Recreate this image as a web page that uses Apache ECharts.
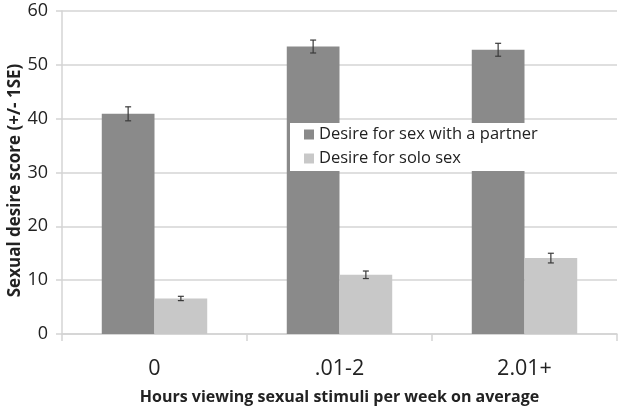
<!DOCTYPE html>
<html>
<head>
<meta charset="utf-8">
<script src="https://cdn.jsdelivr.net/npm/echarts@6/dist/echarts.min.js"></script>
<style>html,body{margin:0;padding:0;background:#fff;}#c{width:618px;height:410px;}</style>
</head>
<body>
<div id="c"></div>
<script>
var categories = ['0', '.01-2', '2.01+'];
var seriesNames = ['Desire for sex with a partner', 'Desire for solo sex'];
var partnerValues = [40.9, 53.4, 52.8];
var partnerSE = [1.3, 1.2, 1.2];
var soloValues = [6.6, 11.0, 14.1];
var soloSE = [0.4, 0.7, 0.9];
var yTicks = [0, 10, 20, 30, 40, 50, 60];

var FONT = 'Open Sans';
var CAT_GAP = 0.43;

function errorSeries(values, se, sideSign, name) {
  var data = values.map(function (v, i) { return [i, v - se[i], v + se[i]]; });
  return {
    type: 'custom',
    name: name + ' SE',
    z: 3,
    silent: true,
    tooltip: { show: false },
    data: data,
    encode: { x: 0, y: [1, 2] },
    renderItem: function (params, api) {
      var idx = api.value(0);
      var lo = api.coord([idx, api.value(1)]);
      var hi = api.coord([idx, api.value(2)]);
      var band = api.size([1, 0])[0];
      var bw = band * (1 - CAT_GAP) / 2;
      var x = lo[0] + sideSign * bw / 2;
      var cap = 3;
      var st = { stroke: '#3a3a3a', lineWidth: 1.2 };
      return {
        type: 'group',
        children: [
          { type: 'line', shape: { x1: x, y1: lo[1], x2: x, y2: hi[1] }, style: st },
          { type: 'line', shape: { x1: x - cap, y1: lo[1], x2: x + cap, y2: lo[1] }, style: st },
          { type: 'line', shape: { x1: x - cap, y1: hi[1], x2: x + cap, y2: hi[1] }, style: st }
        ]
      };
    }
  };
}

var chart = echarts.init(document.getElementById('c'), null, { renderer: 'canvas' });
chart.setOption({
  animation: false,
  backgroundColor: '#fff',
  grid: { left: 62, right: 1, top: 11, bottom: 76, containLabel: false, outerBoundsMode: 'none' },
  legend: {
    orient: 'vertical',
    left: 290,
    top: 123,
    padding: [3, 14, 4, 14],
    itemGap: 7,
    itemWidth: 10,
    itemHeight: 10,
    backgroundColor: '#fff',
    z: 10,
    data: seriesNames.map(function (n) { return { name: n, icon: 'rect' }; }),
    textStyle: { fontFamily: FONT, fontSize: 16.5, color: '#222', lineHeight: 17 }
  },
  xAxis: {
    type: 'category',
    data: categories,
    axisLine: { lineStyle: { color: '#d4d4d4', width: 1.5 } },
    axisTick: { show: true, length: 7, lineStyle: { color: '#d4d4d4', width: 1.5 } },
    axisLabel: { fontFamily: FONT, fontSize: 21.5, color: '#222', margin: 24 },
    name: 'Hours viewing sexual stimuli per week on average',
    nameLocation: 'middle',
    nameGap: 55,
    nameMoveOverlap: false,
    nameTextStyle: { fontFamily: FONT, fontSize: 16, fontWeight: 'bold', color: '#222' }
  },
  yAxis: {
    type: 'value',
    min: yTicks[0],
    max: yTicks[yTicks.length - 1],
    interval: 10,
    axisLine: { show: true, lineStyle: { color: '#d4d4d4', width: 1.5 } },
    axisTick: { show: true, length: 6, lineStyle: { color: '#d4d4d4', width: 1.5 } },
    splitLine: { lineStyle: { color: '#d4d4d4', width: 1.5 } },
    axisLabel: { fontFamily: FONT, fontSize: 18, color: '#222', margin: 14 },
    name: 'Sexual desire score (+/- 1SE)',
    nameLocation: 'middle',
    nameRotate: 90,
    nameGap: 38,
    nameMoveOverlap: false,
    nameTextStyle: { fontFamily: FONT, fontSize: 17, fontWeight: 'bold', color: '#222', padding: [0, 16, 0, 0] }
  },
  series: [
    {
      type: 'bar', name: seriesNames[0], data: partnerValues,
      barGap: '0%', barCategoryGap: (CAT_GAP * 100) + '%',
      itemStyle: { color: '#8a8a8a' }, z: 2
    },
    {
      type: 'bar', name: seriesNames[1], data: soloValues,
      barGap: '0%', barCategoryGap: (CAT_GAP * 100) + '%',
      itemStyle: { color: '#c8c8c8' }, z: 2
    },
    errorSeries(partnerValues, partnerSE, -1, seriesNames[0]),
    errorSeries(soloValues, soloSE, 1, seriesNames[1])
  ]
});
</script>
</body>
</html>
